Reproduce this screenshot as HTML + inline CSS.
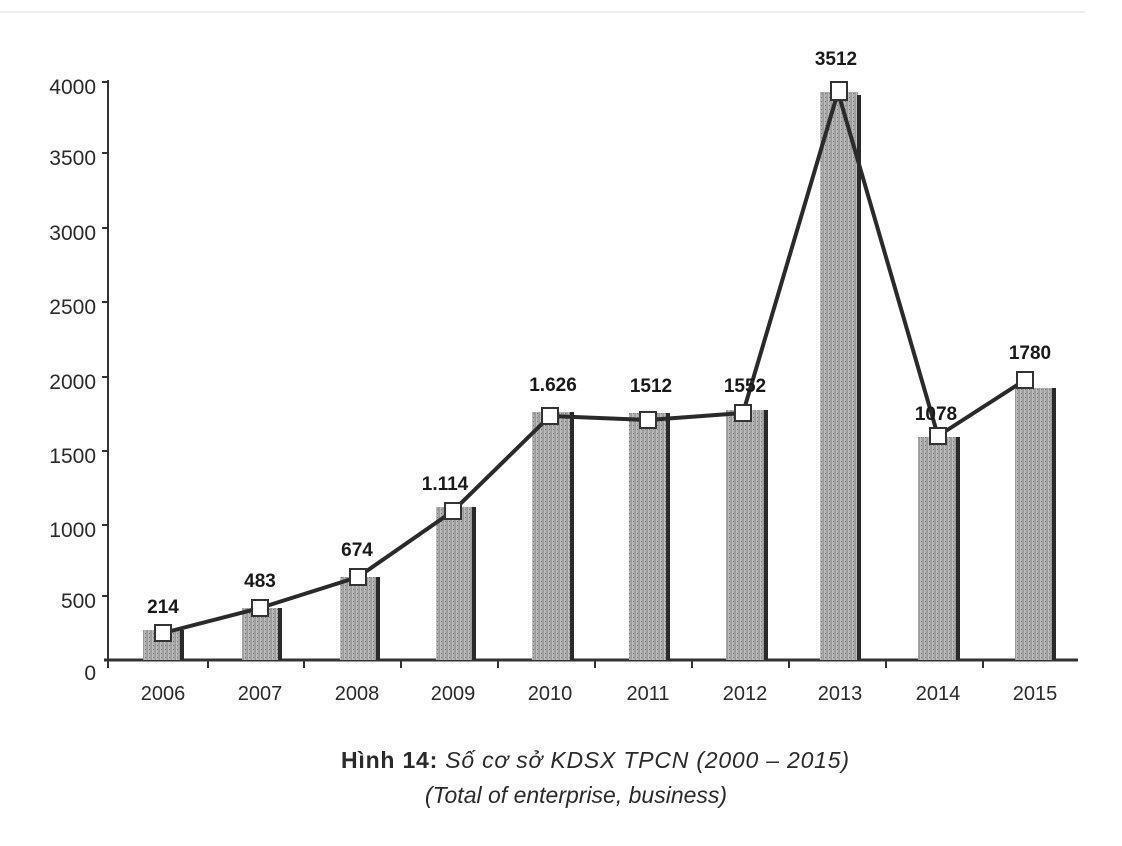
<!DOCTYPE html>
<html><head><meta charset="utf-8"><style>
html,body{margin:0;padding:0;background:#fff;}
svg{display:block;}
</style></head><body>
<svg width="1122" height="846" viewBox="0 0 1122 846" xmlns="http://www.w3.org/2000/svg">
<defs>
<linearGradient id="g" x1="0" x2="1" y1="0" y2="0">
<stop offset="0" stop-color="#c4c4c4"/><stop offset="0.5" stop-color="#a9a9a9"/><stop offset="1" stop-color="#959595"/>
</linearGradient>
<pattern id="dots" width="4" height="4" patternUnits="userSpaceOnUse">
<rect width="4" height="4" fill="url(#g)"/>
<rect x="1" y="1" width="1" height="1" fill="#777"/>
</pattern>
</defs>
<line x1="0" y1="12" x2="1085" y2="12" stroke="#eee" stroke-width="2"/>
<g font-family="Liberation Sans, sans-serif" font-size="21" fill="#2a2a2a" text-anchor="end">
<text x="96" y="94">4000</text>
<text x="96" y="165">3500</text>
<text x="96" y="240">3000</text>
<text x="96" y="314">2500</text>
<text x="96" y="389">2000</text>
<text x="96" y="463">1500</text>
<text x="96" y="537">1000</text>
<text x="96" y="608">500</text>
<text x="96" y="680">0</text>
</g>
<g stroke="#333" stroke-width="2">
<line x1="108" y1="80" x2="108" y2="668"/>
<line x1="104" y1="660" x2="1078" y2="660" stroke-width="3"/>
<line x1="102" y1="82" x2="108" y2="82"/><line x1="102" y1="153" x2="108" y2="153"/>
<line x1="102" y1="228" x2="108" y2="228"/><line x1="102" y1="302" x2="108" y2="302"/>
<line x1="102" y1="377" x2="108" y2="377"/><line x1="102" y1="451" x2="108" y2="451"/>
<line x1="102" y1="525" x2="108" y2="525"/><line x1="102" y1="596" x2="108" y2="596"/>
<line x1="208" y1="660" x2="208" y2="668"/><line x1="304" y1="660" x2="304" y2="668"/>
<line x1="401" y1="660" x2="401" y2="668"/><line x1="498" y1="660" x2="498" y2="668"/>
<line x1="595" y1="660" x2="595" y2="668"/><line x1="692" y1="660" x2="692" y2="668"/>
<line x1="789" y1="660" x2="789" y2="668"/><line x1="886" y1="660" x2="886" y2="668"/>
<line x1="983" y1="660" x2="983" y2="668"/>
</g>
<g fill="url(#dots)">
<rect x="143" y="630" width="38" height="30"/>
<rect x="242" y="608" width="38" height="52"/>
<rect x="340" y="577" width="38" height="83"/>
<rect x="436" y="507" width="38" height="153"/>
<rect x="532" y="412" width="38" height="248"/>
<rect x="629" y="413" width="38" height="247"/>
<rect x="726" y="410" width="38" height="250"/>
<rect x="820" y="92" width="38" height="568"/>
<rect x="918" y="437" width="38" height="223"/>
<rect x="1015" y="388" width="38" height="272"/>
</g>
<g fill="#2a2a2a">
<rect x="180" y="630" width="4" height="30"/>
<rect x="278" y="608" width="4" height="52"/>
<rect x="376" y="577" width="4" height="83"/>
<rect x="472" y="507" width="4" height="153"/>
<rect x="570" y="412" width="4" height="248"/>
<rect x="666" y="413" width="4" height="247"/>
<rect x="764" y="410" width="4" height="250"/>
<rect x="857" y="95" width="4" height="565"/>
<rect x="956" y="437" width="4" height="223"/>
<rect x="1052" y="388" width="4" height="272"/>
</g>
<polyline points="163,633 260,608 358,577 453,511 550,416 648,420 743,413 838,92 938,436 1025,380" fill="none" stroke="#2a2a2a" stroke-width="4" stroke-linejoin="round"/>
<g fill="#fff" stroke="#333" stroke-width="2">
<rect x="155" y="625" width="16" height="16"/>
<rect x="252" y="600" width="16" height="16"/>
<rect x="350" y="569" width="16" height="16"/>
<rect x="445" y="503" width="16" height="16"/>
<rect x="542" y="408" width="16" height="16"/>
<rect x="640" y="412" width="16" height="16"/>
<rect x="735" y="405" width="16" height="16"/>
<rect x="831" y="82" width="16" height="18"/>
<rect x="930" y="428" width="16" height="16"/>
<rect x="1017" y="372" width="16" height="16"/>
</g>
<g font-family="Liberation Sans, sans-serif" font-size="19" font-weight="bold" fill="#1a1a1a" text-anchor="middle">
<text x="163" y="613">214</text>
<text x="260" y="587">483</text>
<text x="357" y="556">674</text>
<text x="445" y="490">1.114</text>
<text x="553" y="391">1.626</text>
<text x="651" y="392">1512</text>
<text x="745" y="392">1552</text>
<text x="836" y="65">3512</text>
<text x="936" y="420">1078</text>
<text x="1030" y="359">1780</text>
</g>
<g font-family="Liberation Sans, sans-serif" font-size="20" fill="#2a2a2a" text-anchor="middle">
<text x="163" y="700">2006</text><text x="260" y="700">2007</text>
<text x="357" y="700">2008</text><text x="453" y="700">2009</text>
<text x="550" y="700">2010</text><text x="648" y="700">2011</text>
<text x="745" y="700">2012</text><text x="840" y="700">2013</text>
<text x="938" y="700">2014</text><text x="1035" y="700">2015</text>
</g>
<text x="595" y="768" font-family="Liberation Sans, sans-serif" font-size="23" fill="#2a2a2a" text-anchor="middle" textLength="508"><tspan font-weight="bold">Hình 14:</tspan> <tspan font-style="italic">Số cơ sở KDSX TPCN (2000 – 2015)</tspan></text>
<text x="576" y="803" font-family="Liberation Sans, sans-serif" font-size="23" font-style="italic" fill="#2a2a2a" text-anchor="middle">(Total of enterprise, business)</text>
</svg>
</body></html>
